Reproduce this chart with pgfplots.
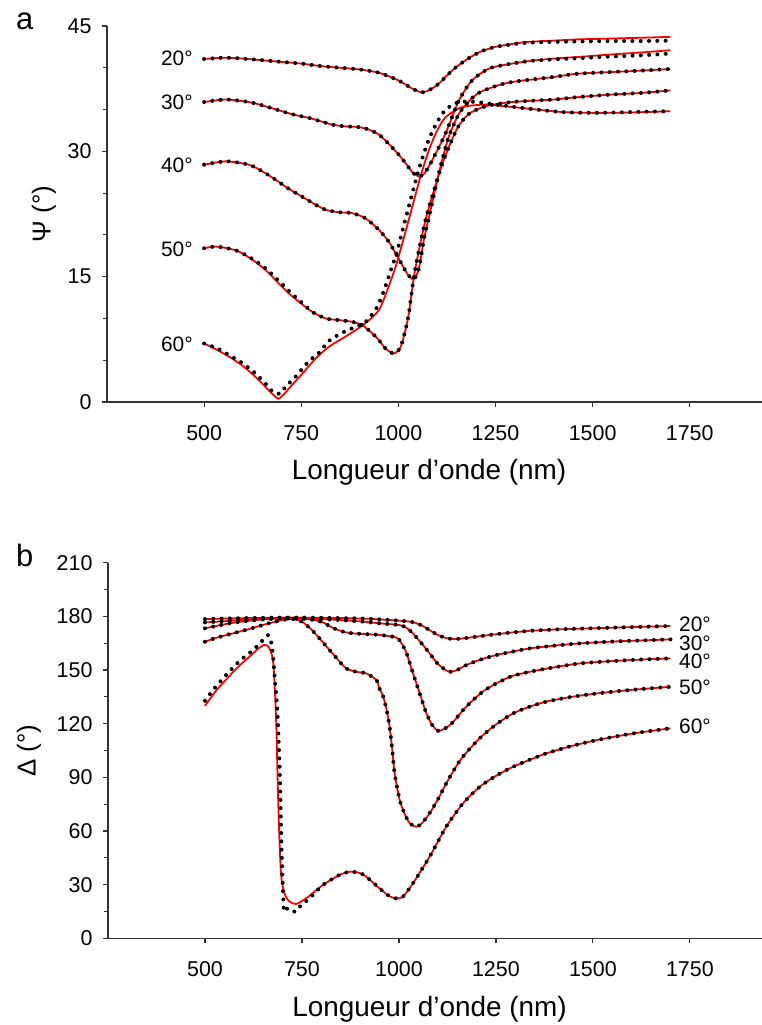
\documentclass[border=0pt]{standalone}
\usepackage{fontspec}
\setmainfont{Liberation Sans}
\usepackage{pgfplots}
\usepackage{pgfplotstable}
\pgfplotsset{compat=1.18}

% ---- panel a : Psi ----
\pgfplotstableread{
nm fit exp
500 41.05 41.05
550 41.2 41.2
600 41.1 41.1
650 40.9 40.9
700 40.7 40.7
750 40.5 40.5
800 40.2 40.2
850 40.0 40.0
900 39.8 39.8
950 39.4 39.4
1000 38.5 38.5
1036 37.5 37.5
1061 37.06 37.06
1082 37.4 37.4
1104 38.1 38.1
1139 39.7 39.7
1173 40.9 40.9
1210 41.9 41.9
1250 42.5 42.5
1300 42.9 42.85
1336 43.1 43.0
1400 43.25 43.1
1465 43.4 43.15
1550 43.5 43.2
1630 43.6 43.2
1700 43.7 43.25
}\psiA
\pgfplotstableread{
nm fit exp
500 35.9 35.9
556 36.2 36.2
615 35.9 35.9
650 35.5 35.5
693 34.9 34.9
730 34.4 34.4
770 34.0 34.0
800 33.6 33.6
829 33.2 33.2
860 33.0 33.0
898 32.9 32.9
924 32.6 32.6
950 32.0 32.0
975 30.9 30.9
1001 29.6 29.6
1020 28.5 28.5
1036 27.5 27.5
1053 27.0 27.0
1068 27.4 27.4
1090 29.2 29.2
1122 32.2 32.2
1156 36.1 36.1
1190 38.5 38.5
1233 39.9 39.9
1280 40.4 40.4
1336 40.8 40.8
1400 41.1 41.0
1465 41.3 41.15
1550 41.6 41.35
1630 41.85 41.5
1700 42.1 41.7
}\psiB
\pgfplotstableread{
nm fit exp
500 28.4 28.4
556 28.8 28.8
615 28.4 28.4
650 27.6 27.6
684 26.6 26.6
715 25.6 25.6
744 24.8 24.8
780 23.8 23.8
813 23.0 23.0
850 22.7 22.7
881 22.6 22.6
915 22.0 22.0
950 20.6 20.6
975 19.2 19.2
993 17.8 17.8
1010 16.4 16.4
1025 15.2 15.2
1040 14.7 14.7
1053 16.0 16.0
1066 19.5 19.5
1083 23.0 23.0
1100 26.5 26.5
1113 29.0 29.0
1130 31.8 31.8
1156 34.5 34.5
1182 36.0 36.0
1207 37.0 37.0
1250 37.8 37.8
1293 38.3 38.3
1400 38.9 38.9
1465 39.3 39.3
1600 39.6 39.6
1700 39.85 39.85
}\psiC
\pgfplotstableread{
nm fit exp
500 18.4 18.4
529 18.6 18.6
560 18.4 18.4
590 18.0 18.0
625 17.0 17.1
658 15.8 16.0
690 14.3 14.6
718 13.0 13.3
744 12.0 12.2
778 10.8 10.8
813 10.0 10.0
847 9.8 9.8
881 9.6 9.6
907 9.2 9.2
933 8.2 8.2
950 7.4 7.4
967 6.4 6.4
988 5.8 5.8
1005 6.5 6.5
1017 8.4 8.4
1027 10.6 10.6
1040 15.0 15.0
1053 18.2 18.2
1070 21.8 21.8
1087 24.6 24.6
1113 28.5 28.5
1139 31.5 31.5
1156 33.1 33.1
1182 34.5 34.5
1225 35.4 35.4
1293 35.9 35.9
1400 36.2 36.2
1465 36.5 36.5
1550 36.8 36.8
1630 37.0 37.0
1700 37.3 37.3
}\psiD
\pgfplotstableread{
nm fit
500 7.0
535 6.2
572 5.2
600 4.3
630 3.1
658 1.8
675 1.0
691 0.4
705 0.9
718 1.6
753 3.4
787 5.2
821 6.6
856 7.6
890 8.6
920 9.6
950 11.0
970 13.2
993 16.2
1015 19.8
1036 23.4
1057 27.0
1079 30.2
1100 32.5
1122 34.1
1164 35.3
1225 35.6
1250 35.5
1336 35.1
1422 34.7
1508 34.6
1600 34.65
1700 34.8
}\psiEfit
\pgfplotstableread{
nm exp
500 7.0
535 6.4
572 5.4
600 4.6
630 3.5
658 2.2
675 1.3
690 1.0
700 1.1
710 1.9
727 2.6
744 3.5
770 4.9
796 5.9
821 7.3
856 8.3
890 9.0
916 9.6
950 11.8
993 17.5
1015 21.3
1036 25.0
1057 28.5
1079 31.5
1100 33.5
1122 35.0
1156 35.9
1200 35.9
1250 35.6
1336 35.1
1422 34.7
1508 34.6
1600 34.7
1700 34.8
}\psiEexp

% ---- panel b : Delta ----
\pgfplotstableread{
nm fit
500 178.5
600 179
700 179.3
800 179.2
900 178.8
950 178.3
1000 177.6
1035 176.8
1060 174.8
1079 172.3
1100 169.6
1120 168.0
1140 167.3
1170 167.8
1209 168.9
1270 170.5
1338 171.9
1420 172.8
1509 173.4
1600 174.0
1700 174.6
}\delA
\pgfplotstableread{
nm fit
500 176.6
550 177.3
600 178
700 178.8
800 178.5
900 177.2
950 176.1
1002 175.1
1020 173.5
1036 170.5
1060 164.5
1079 159.3
1100 153.5
1123 149.6
1135 149.0
1150 150.0
1174 152.8
1210 155.8
1252 158.4
1300 160.6
1338 162.1
1400 163.6
1467 164.9
1550 165.9
1620 166.5
1700 167.1
}\delB
\pgfplotstableread{
nm fit
500 173.3
572 176.4
658 178.5
718 179
760 178.6
800 177
830 173.5
860 171.2
881 170.5
920 170
950 169.6
993 168.2
1005 165.5
1019 159.8
1032 151
1045 142.5
1058 134
1071 125.7
1085 119.5
1101 116.0
1120 117.5
1140 121.0
1165 127.5
1191 133.2
1220 138.5
1251 142.5
1290 146.5
1337 149.0
1400 151.5
1467 153.7
1550 155.0
1620 155.8
1700 156.5
}\delC
\pgfplotstableread{
nm fit
500 165.8
529 168
572 170.5
615 173
658 175.7
700 178
727 178.5
750 177
775 172.5
800 166.5
821 161.2
840 156.5
864 150.9
890 149.0
916 148.1
942 144.4
950 139.5
959 135.5
968 128
976 118.2
983 105
989 92.1
1002 77.3
1015 69.5
1028 64.3
1045 62.4
1060 64.5
1079 69.9
1100 77.5
1122 86.6
1143 94.5
1165 101.6
1208 111.8
1250 119.5
1294 125.7
1337 129.5
1380 132.3
1440 134.8
1510 136.9
1600 138.9
1700 140.6
}\delD
\pgfplotstableread{
nm fit
500 130.0
529 138.5
560 146.0
589 152.5
615 157.5
635 161.5
652 164.0
663 163.2
671 159.5
676 154
680 140
684 118
688 83
692 55
696 36.3
701 28.5
708 23.5
718 20.5
735 19.2
761 22.4
804 29.8
847 35.4
873 37.2
899 36.5
916 34.4
950 27.9
975 23.6
993 22.3
1010 23.2
1036 30.7
1079 45.6
1122 62.4
1165 75.4
1209 84.8
1250 90.8
1294 95.9
1337 99.8
1380 103.4
1445 107.5
1510 110.8
1600 114.4
1700 117.4
}\delEfit
\pgfplotstableread{
nm exp
500 132.8
529 141
560 148.5
589 155
615 159.5
640 164.5
662 169.5
670 166
675 159
680 145
686 129.5
690 110
693 92
696 64
698 46
700 32.6
702 21.4
704 14.9
713 16.8
724 15.5
735 14.9
748 18.6
770 22.4
804 29.8
847 35.4
873 37.2
899 36.5
916 34.4
950 27.9
975 23.6
993 22.3
1010 23.2
1036 30.7
1079 45.6
1122 62.4
1165 75.4
1209 84.8
1250 90.8
1294 95.9
1337 99.8
1380 103.4
1445 107.5
1510 110.8
1600 114.4
1700 117.4
}\delEexp

\tikzset{ang/.style={font=\fontsize{21}{24}\selectfont, inner sep=0pt}}

\begin{document}
\begin{tikzpicture}
\useasboundingbox (0,0) rectangle (762bp,1025bp);
\pgfplotsset{
  panel/.style={
    scale only axis, width=655bp,
    xmin=250, xmax=1936,
    axis lines=left,
    axis line style={-, line width=1.4bp, black!80},
    every tick/.style={line width=1.2bp, black!80},
    tick align=outside, major tick length=5bp, minor tick length=3.5bp,
    xtick={500,750,...,1750},
    ticklabel style={font=\fontsize{21.5}{24}\selectfont},
    xticklabel style={yshift=-15bp},
    yticklabel style={xshift=-7bp},
    /pgf/number format/assume math mode=true,
    /pgf/number format/1000 sep={},
    xlabel={Longueur d’onde (nm)},
    every axis x label/.style={at={(axis description cs:0.4916,0)}, anchor=base, yshift=-78bp,
      font=\fontsize{28}{32}\selectfont},
    clip=false,
  },
  fit/.style={red, line width=1.8bp, smooth, tension=0.45},
  exp/.style={black, line width=4bp, line cap=round, dash pattern=on 0pt off 8.3bp, smooth, tension=0.45},
}

% panel a
\begin{axis}[panel, at={(107bp,623bp)}, anchor=south west, height=376bp,
  ymin=0, ymax=45, ytick={0,15,30,45}, minor ytick={5,10,20,25,35,40},
  ylabel={Ψ (°)},
  every axis y label/.style={at={(axis description cs:-0.0962,0.5)}, anchor=center, rotate=90,
    font=\fontsize{26}{30}\selectfont},
]
\addplot[fit] table[x=nm,y=fit] {\psiA};
\addplot[fit] table[x=nm,y=fit] {\psiB};
\addplot[fit] table[x=nm,y=fit] {\psiC};
\addplot[fit] table[x=nm,y=fit] {\psiD};
\addplot[fit] table[x=nm,y=fit] {\psiEfit};
\addplot[exp] table[x=nm,y=exp] {\psiA};
\addplot[exp] table[x=nm,y=exp] {\psiB};
\addplot[exp] table[x=nm,y=exp] {\psiC};
\addplot[exp] table[x=nm,y=exp] {\psiD};
\addplot[exp] table[x=nm,y=exp] {\psiEexp};
\node[ang, anchor=east] at (axis cs:471,41.1) {20°};
\node[ang, anchor=east] at (axis cs:471,35.9) {30°};
\node[ang, anchor=east] at (axis cs:471,28.3) {40°};
\node[ang, anchor=east] at (axis cs:471,18.3) {50°};
\node[ang, anchor=east] at (axis cs:471,6.9) {60°};
\end{axis}

% panel b
\begin{axis}[panel, at={(108bp,86.7bp)}, anchor=south west, height=375.6bp, width=654bp,
  ymin=0, ymax=210, ytick={0,30,...,210}, minor ytick={15,45,...,195},
  ylabel={Δ (°)},
  every axis y label/.style={at={(axis description cs:-0.1208,0.5)}, anchor=center, rotate=90,
    font=\fontsize{26}{30}\selectfont},
]
\addplot[fit] table[x=nm,y=fit] {\delA};
\addplot[fit] table[x=nm,y=fit] {\delB};
\addplot[fit] table[x=nm,y=fit] {\delC};
\addplot[fit] table[x=nm,y=fit] {\delD};
\addplot[fit] table[x=nm,y=fit] {\delEfit};
\addplot[exp] table[x=nm,y=fit] {\delA};
\addplot[exp] table[x=nm,y=fit] {\delB};
\addplot[exp] table[x=nm,y=fit] {\delC};
\addplot[exp] table[x=nm,y=fit] {\delD};
\addplot[exp] table[x=nm,y=exp] {\delEexp};
\node[ang, anchor=west] at (axis cs:1722,175.3) {20°};
\node[ang, anchor=west] at (axis cs:1722,165.0) {30°};
\node[ang, anchor=west] at (axis cs:1722,155.0) {40°};
\node[ang, anchor=west] at (axis cs:1722,140.3) {50°};
\node[ang, anchor=west] at (axis cs:1722,118.3) {60°};
\end{axis}

\node[anchor=base west, font=\fontsize{31}{34}\selectfont, inner sep=0pt] at (16bp,995bp) {a};
\node[anchor=base west, font=\fontsize{31}{34}\selectfont, inner sep=0pt] at (16bp,458.3bp) {b};
\end{tikzpicture}
\end{document}
